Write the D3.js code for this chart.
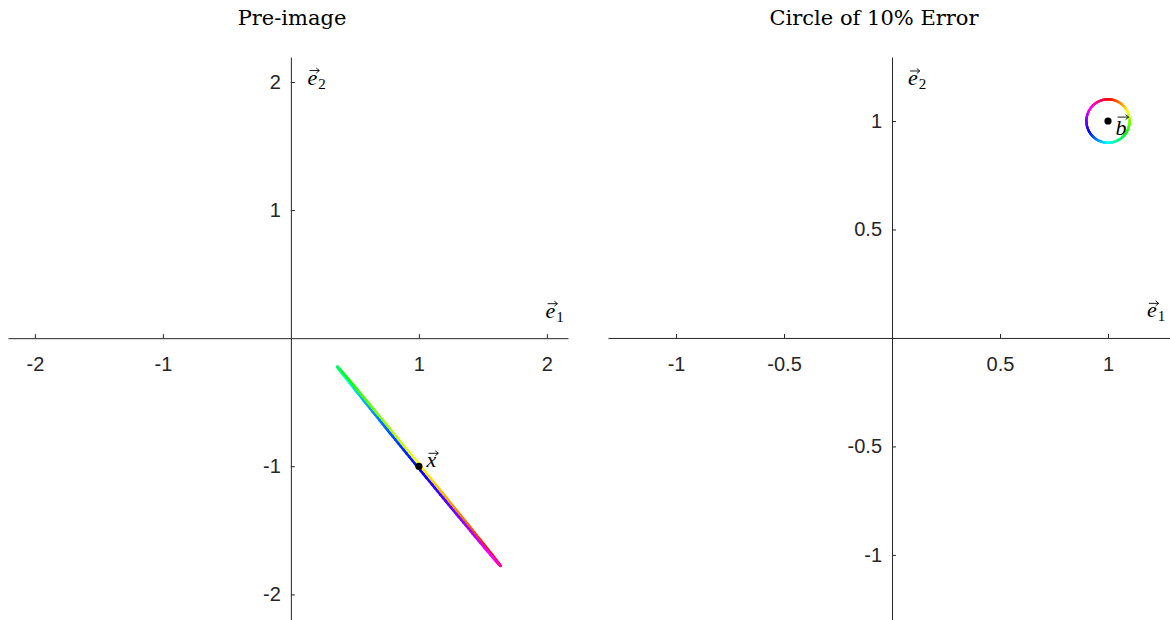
<!DOCTYPE html>
<meta charset="utf-8">
<script src="https://d3js.org/d3.v7.min.js"></script>
<style>
  body { margin: 0; background: #fff; }
  .tick text { font-family: "Liberation Sans", Arial, sans-serif; font-size: 20px; fill: #262626; }
  .title { font-family: "DejaVu Serif", "Liberation Serif", serif; font-size: 21px; fill: #000; }
  .vec { font-family: "Liberation Serif", "DejaVu Serif", serif; font-style: italic; font-size: 22px; fill: #000; }
</style>
<div id="chart"></div>
<script>

// tick values of each panel
var leftTicksX = [-2, -1, 1, 2]
var leftTicksY = [2, 1, -1, -2]
var rightTicksX = [-1, -0.5, 0.5, 1]
var rightTicksY = [1, 0.5, -0.5, -1]

// the points and the error circle
var bPoint = [1, 1]
var xPoint = [1, -1]
var errorRadius = 0.1

// pre-image ellipse: half axes (long one to the upper left end)
var preMajor = [-0.637, 0.777]
var preMinor = [0.0085, 0.007]
var preStartAngle = -60   // circle angle (deg) that lands on the upper left end

var width = 1170, height = 620

var svg = d3.select("#chart")
  .append("svg")
    .attr("width", width)
    .attr("height", height)

// hsv colormap, red at the top of the circle and going clockwise
function hueColor(deg) {
  var h = ((90 - deg) % 360 + 360) % 360
  return d3.hsl(h, 1, 0.5).toString()
}

// plain hyphen for negatives, like the original
function fmt(d) { return String(d) }

function drawPanel(opts) {
  var x = d3.scaleLinear().domain(opts.xDomain).range(opts.xRange)
  var y = d3.scaleLinear().domain(opts.yDomain).range([57, 620])
  var g = svg.append("g")

  var xAxis = d3.axisBottom(x).tickValues(opts.ticksX).tickSizeInner(-4).tickSizeOuter(0)
    .tickPadding(19).tickFormat(fmt)
  var yAxis = d3.axisLeft(y).tickValues(opts.ticksY).tickSizeInner(-4).tickSizeOuter(0)
    .tickPadding(10).tickFormat(fmt)

  g.append("g").attr("transform", "translate(0," + y(0) + ")").call(xAxis)
  g.append("g").attr("transform", "translate(" + x(0) + ",0)").call(yAxis)
  g.selectAll(".domain, .tick line").attr("stroke", "#262626")
  g.selectAll(".tick text").attr("font-family", null).attr("font-size", null)

  g.append("text")
    .attr("class", "title")
    .attr("x", opts.titleX)
    .attr("y", 25)
    .attr("text-anchor", "middle")
    .text(opts.title)

  vecLabel(g, x(opts.e1[0]), y(opts.e1[1]), "e", "1", false)
  vecLabel(g, x(opts.e2[0]), y(opts.e2[1]), "e", "2", false)

  return {g: g, x: x, y: y}
}

// italic letter with an arrow above and an optional subscript
function vecLabel(g, px, py, letter, sub, tall) {
  var t = g.append("text").attr("class", "vec").attr("x", px).attr("y", py).text(letter)
  var w = t.node().getComputedTextLength()
  if (sub) {
    g.append("text")
      .attr("x", px + w + 1)
      .attr("y", py + 4)
      .style("font-family", "'Liberation Serif', serif")
      .style("font-size", "15px")
      .text(sub)
  }
  var ay = tall ? py - 18 : py - 14
  var x0 = px + 2, x1 = px + w + 2
  g.append("path")
    .attr("d", "M" + x0 + "," + ay + "H" + x1 + "M" + (x1 - 3) + "," + (ay - 2.5) + "L" + x1 + "," + ay + "L" + (x1 - 3) + "," + (ay + 2.5))
    .attr("fill", "none")
    .attr("stroke", "#000")
    .attr("stroke-width", 0.9)
}

var left = drawPanel({
  xDomain: [-2.21, 2.165], xRange: [8, 568], yDomain: [2.195, -2.2],
  ticksX: leftTicksX, ticksY: leftTicksY,
  title: "Pre-image", titleX: 292,
  e1: [1.99, 0.16], e2: [0.13, 1.98]
})

var right = drawPanel({
  xDomain: [-1.315, 1.287], xRange: [608, 1170], yDomain: [1.295, -1.3],
  ticksX: rightTicksX, ticksY: rightTicksY,
  title: "Circle of 10% Error", titleX: 874,
  e1: [1.18, 0.095], e2: [0.074, 1.166]
})

// sample the circle angle; each piece gets its own colour
var steps = d3.range(0, 360, 2)

function circlePoint(deg) {
  var a = deg * Math.PI / 180
  return [bPoint[0] + errorRadius * Math.cos(a), bPoint[1] + errorRadius * Math.sin(a)]
}
function prePoint(deg) {
  var a = (deg - preStartAngle) * Math.PI / 180
  return [xPoint[0] + preMajor[0] * Math.cos(a) + preMinor[0] * Math.sin(a),
          xPoint[1] + preMajor[1] * Math.cos(a) + preMinor[1] * Math.sin(a)]
}

function drawCurve(panel, pointFn, strokeW) {
  var line = d3.line().x(function(d) { return panel.x(d[0]) }).y(function(d) { return panel.y(d[1]) })
  panel.g.append("g")
    .selectAll("path")
    .data(steps)
    .enter()
    .append("path")
      .attr("d", function(d) { return line([pointFn(d), pointFn(d + 2)]) })
      .attr("stroke", function(d) { return hueColor(d + 1) })
      .attr("stroke-width", strokeW)
      .attr("stroke-linecap", "round")
      .attr("fill", "none")
}

drawCurve(left, prePoint, 2.6)
drawCurve(right, circlePoint, 2.4)

// the two points
left.g.append("circle").attr("cx", left.x(xPoint[0])).attr("cy", left.y(xPoint[1])).attr("r", 3.6).attr("fill", "#000")
right.g.append("circle").attr("cx", right.x(bPoint[0])).attr("cy", right.y(bPoint[1])).attr("r", 3.6).attr("fill", "#000")

vecLabel(left.g, left.x(1.06), left.y(-1.008), "x", null, false)
vecLabel(right.g, right.x(1.035), right.y(0.935), "b", null, true)

</script>
